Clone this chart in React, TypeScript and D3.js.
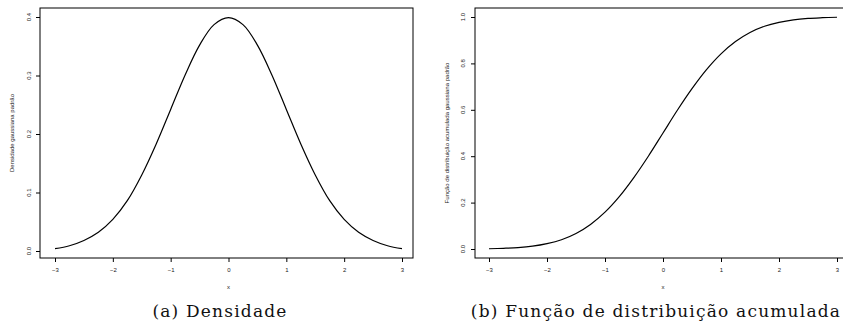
import { useRef, useEffect } from 'react';
import * as d3 from 'd3';

// values, x from -3 to 3 in steps of 0.25
const xValues = [-3, -2.75, -2.5, -2.25, -2, -1.75, -1.5, -1.25, -1, -0.75, -0.5, -0.25, 0,
    0.25, 0.5, 0.75, 1, 1.25, 1.5, 1.75, 2, 2.25, 2.5, 2.75, 3];
const densityValues = [0.004, 0.009, 0.018, 0.032, 0.054, 0.086, 0.130, 0.183, 0.242, 0.301, 0.352, 0.387, 0.399,
    0.387, 0.352, 0.301, 0.242, 0.183, 0.130, 0.086, 0.054, 0.032, 0.018, 0.009, 0.004];
const cdfValues = [0.001, 0.003, 0.006, 0.012, 0.023, 0.040, 0.067, 0.106, 0.159, 0.227, 0.309, 0.401, 0.5,
    0.599, 0.691, 0.773, 0.841, 0.894, 0.933, 0.960, 0.977, 0.988, 0.994, 0.997, 0.999];

const xTicks = [-3, -2, -1, 0, 1, 2, 3];
const densityTicks = [0, 0.1, 0.2, 0.3, 0.4];
const cdfTicks = [0, 0.2, 0.4, 0.6, 0.8, 1.0];

interface Panel {
    values: number[];
    yTicks: number[];
    yDomain: [number, number];
    xRange: [number, number];
    yRange: [number, number];
    box: { left: number, right: number, top: number, bottom: number };
    yLabel: string;
    yLabelX: number;
    yTickLabelX: number;
    caption: string;
    captionX: number;
}

const panels: Panel[] = [
    {
        values: densityValues,
        yTicks: densityTicks,
        yDomain: [0, 0.4],
        xRange: [55, 402],
        yRange: [251, 17],
        box: { left: 40, right: 413, top: 8, bottom: 258 },
        yLabel: 'Densidade gaussiana padrão',
        yLabelX: 12,
        yTickLabelX: 29,
        caption: '(a) Densidade',
        captionX: 220,
    },
    {
        values: cdfValues,
        yTicks: cdfTicks,
        yDomain: [0, 1],
        xRange: [489, 837],
        yRange: [249, 17],
        box: { left: 475, right: 851, top: 8, bottom: 258 },
        yLabel: 'Função de distribuição acumulada gaussiana padrão',
        yLabelX: 447,
        yTickLabelX: 463,
        caption: '(b) Função de distribuição acumulada',
        captionX: 656,
    },
];

const App = () => {
    const svgRef = useRef<SVGSVGElement | null>(null);

    useEffect(() => {
        const svg = d3.select(svgRef.current);
        svg.selectAll('*').remove();

        panels.forEach(p => {
            const x = d3.scaleLinear().domain([-3, 3]).range(p.xRange);
            const y = d3.scaleLinear().domain(p.yDomain).range(p.yRange);
            const g = svg.append('g');

            // box
            g.append('rect')
                .attr('x', p.box.left)
                .attr('y', p.box.top)
                .attr('width', p.box.right - p.box.left)
                .attr('height', p.box.bottom - p.box.top)
                .attr('fill', 'none')
                .attr('stroke', '#000')
                .attr('stroke-width', 1);

            // x axis
            const xAxis = g.append('g')
                .attr('transform', `translate(0, ${p.box.bottom})`)
                .call(d3.axisBottom(x).tickValues(xTicks).tickSize(4).tickPadding(6)
                    .tickFormat(d => String(d).replace('-', '−')));
            xAxis.select('.domain').remove();
            xAxis.selectAll('line').attr('stroke', '#000');
            xAxis.selectAll('text')
                .attr('fill', '#222')
                .style('font-family', 'Liberation Sans, Arial, sans-serif')
                .style('font-size', '6px');

            // y axis
            const yAxis = g.append('g')
                .attr('transform', `translate(${p.box.left}, 0)`)
                .call(d3.axisLeft(y).tickValues(p.yTicks).tickSize(4).tickFormat(d3.format('.1f')));
            yAxis.select('.domain').remove();
            yAxis.selectAll('line').attr('stroke', '#000');
            yAxis.selectAll('text').remove();

            g.selectAll('.ytl')
                .data(p.yTicks)
                .enter()
                .append('text')
                .attr('class', 'ytl')
                .attr('transform', d => `translate(${p.yTickLabelX}, ${y(d)}) rotate(-90)`)
                .attr('text-anchor', 'middle')
                .attr('dy', '0.35em')
                .attr('fill', '#222')
                .style('font-family', 'Liberation Sans, Arial, sans-serif')
                .style('font-size', '6px')
                .text(d => d3.format('.1f')(d));

            // axis titles
            g.append('text')
                .attr('x', x(0))
                .attr('y', 289)
                .attr('text-anchor', 'middle')
                .attr('fill', '#222')
                .style('font-family', 'Liberation Sans, Arial, sans-serif')
                .style('font-size', '6px')
                .text('x');

            g.append('text')
                .attr('transform', `translate(${p.yLabelX}, ${(p.box.top + p.box.bottom) / 2}) rotate(-90)`)
                .attr('text-anchor', 'middle')
                .attr('dy', '0.35em')
                .attr('fill', '#222')
                .style('font-family', 'Liberation Sans, Arial, sans-serif')
                .style('font-size', '6px')
                .text(p.yLabel);

            // curve
            const line = d3.line<number>()
                .x((_, i) => x(xValues[i]))
                .y(d => y(d))
                .curve(d3.curveCatmullRom);

            g.append('path')
                .datum(p.values)
                .attr('fill', 'none')
                .attr('stroke', '#000')
                .attr('stroke-width', 1.2)
                .attr('d', line);

            // caption
            g.append('text')
                .attr('x', p.captionX)
                .attr('y', 317)
                .attr('text-anchor', 'middle')
                .attr('fill', '#111')
                .style('font-family', 'DejaVu Serif, serif')
                .style('font-size', '17px')
                .style('letter-spacing', '1.2px')
                .text(p.caption);
        });
    }, []);

    return (
        <svg ref={svgRef} width={843} height={327}
            style={{ position: 'absolute', left: 0, top: 0, background: '#fff' }}></svg>
    );
};

export default App;
